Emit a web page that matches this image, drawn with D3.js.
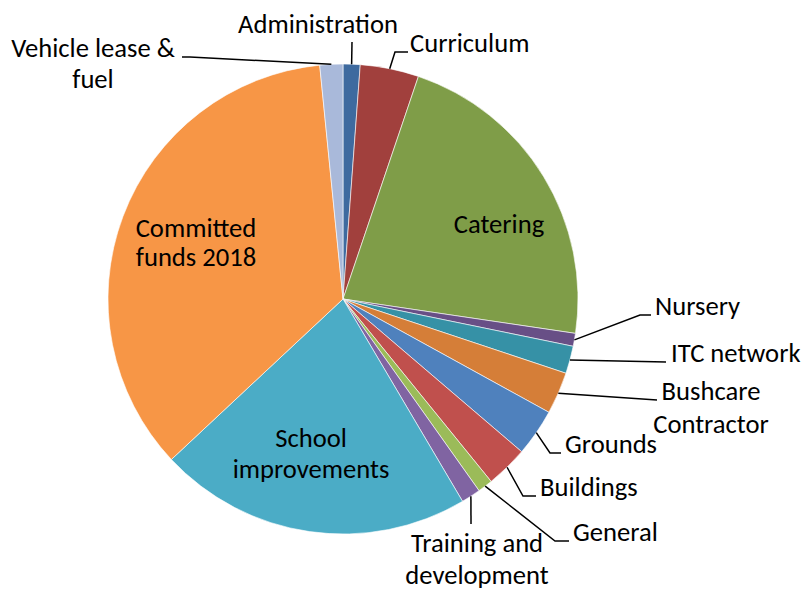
<!DOCTYPE html>
<html><head><meta charset="utf-8">
<script src="https://cdn.jsdelivr.net/npm/d3@7"></script>
<style>
html,body{margin:0;padding:0;background:#fff;}
svg text{font-family:Carlito,Calibri,Lato,"Open Sans",sans-serif;fill:#000;}
</style></head>
<body>
<svg id="chart" width="803" height="590"></svg>
<script>
// ---- data ----
const categories = ["Administration","Curriculum","Catering","Nursery","ITC network","Bushcare Contractor","Grounds","Buildings","General","Training and development","School improvements","Committed funds 2018","Vehicle lease & fuel"];
const values = [1.17, 4.03, 22.14, 0.89, 1.89, 2.89, 3.25, 2.89, 1.03, 1.33, 21.53, 35.39, 1.58];
const colors = ["#3E6A9F","#A1403D","#7F9D48","#684F86","#3691A6","#D57E38","#4F81BD","#C0504D","#9BBB59","#8064A2","#4BACC6","#F79646","#A9B9DA"];

// ---- layout (label placement, pixels) ----
const labelLayout = [
  {lines:["Administration"], x:318, y:[33], anchor:"middle", path:[[352,42]]},
  {lines:["Curriculum"], x:410, y:[52], anchor:"start", path:[[395,52],[408,52]]},
  {lines:["Catering"], x:499, y:[233], anchor:"middle", path:null},
  {lines:["Nursery"], x:655, y:[315], anchor:"start", path:[[640,315],[651,315]]},
  {lines:["ITC network"], x:671, y:[362], anchor:"start", path:[[666,362]]},
  {lines:["Bushcare","Contractor"], x:711, y:[400,433], anchor:"middle", path:[[657,400]]},
  {lines:["Grounds"], x:565, y:[453], anchor:"start", path:[[550,453],[561,453]]},
  {lines:["Buildings"], x:540, y:[496], anchor:"start", path:[[523,496],[536,496]]},
  {lines:["General"], x:573, y:[541], anchor:"start", path:[[555,541],[569,541]]},
  {lines:["Training and","development"], x:477, y:[552,584], anchor:"middle", path:[[471,524]]},
  {lines:["School","improvements"], x:311, y:[447,478], anchor:"middle", path:null},
  {lines:["Committed","funds 2018"], x:196, y:[237,266], anchor:"middle", path:null},
  {lines:["Vehicle lease &","fuel"], x:93, y:[57,88], anchor:"middle", path:[[190,57],[182,57]]}
];

const cx = 343, cy = 299, R = 235;
const svg = d3.select("#chart");

// font size fitting so "Administration" is ~160px wide
const probe = svg.append("text").attr("font-size",100).text("Administration");
const w100 = probe.node().getComputedTextLength();
probe.remove();
const fs = 100 * 160 / w100;

const pie = d3.pie().sort(null).value(d => d)(values);
const arc = d3.arc().innerRadius(0).outerRadius(R);

const g = svg.append("g").attr("transform", `translate(${cx},${cy})`);
g.selectAll("path").data(pie).join("path")
  .attr("d", arc)
  .attr("fill", (d,i) => colors[i])
  .attr("stroke", "#fff").attr("stroke-width", 0.6);

// leader lines
pie.forEach((d,i) => {
  const L = labelLayout[i];
  if (!L.path) return;
  const a = (d.startAngle + d.endAngle) / 2;
  const start = [cx + R * Math.sin(a), cy - R * Math.cos(a)];
  const pts = [start, ...L.path];
  svg.append("path")
    .attr("d", d3.line()(pts))
    .attr("fill","none").attr("stroke","#000").attr("stroke-width",1.5);
});

// labels
labelLayout.forEach(L => {
  const t = svg.append("text").attr("text-anchor", L.anchor).attr("font-size", fs);
  L.lines.forEach((s,j) => t.append("tspan").attr("x", L.x).attr("y", L.y[j]).text(s));
});
</script>
</body></html>
